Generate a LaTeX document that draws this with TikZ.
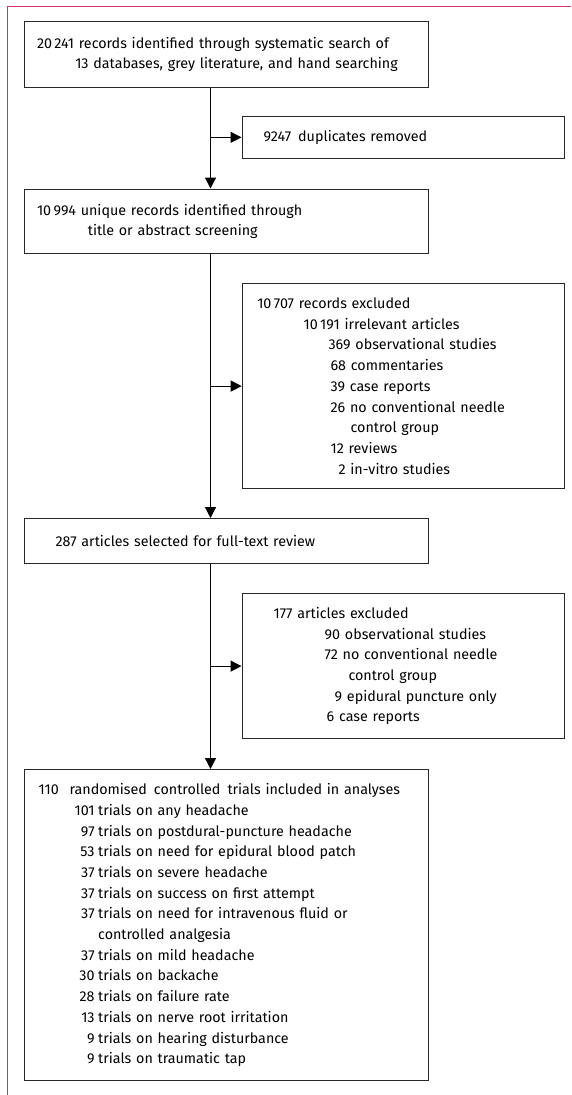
\documentclass[tikz,border=0pt]{standalone}
\usepackage{fontspec}
\setmainfont{Fira Sans}
\usetikzlibrary{arrows.meta}
\definecolor{framec}{RGB}{214,48,104}
\definecolor{boxc}{RGB}{40,40,40}
\newcommand{\fs}{\fontsize{14.3}{20.7}\selectfont}
\newcommand{\ind}[1]{\hspace*{#1pt}}
\newcommand{\tl}[2]{\makebox[56pt][r]{#1}\hspace{3.6pt}#2}
\begin{document}
\begin{tikzpicture}[x=1pt,y=-1pt,
  box/.style={draw=boxc, line width=1.2pt, anchor=north west, align=left,
    inner ysep=0pt, font=\fs},
  arr/.style={draw=black, line width=1.2pt, -{Triangle[length=11pt,width=11pt]}}]
\useasboundingbox (0,0) rectangle (571,1095);
\draw[framec, line width=1.7pt] (7.5,1095) -- (7.5,6.5) -- (571,6.5);

\node[box, minimum width=404pt, minimum height=65.5pt, inner xsep=12.4pt, text width=379.2pt]
  (A) at (24,21) {20\,241 records identified through systematic search of\\
  \ind{38.3}13 databases, grey literature, and hand searching};

\node[box, minimum width=322.5pt, minimum height=42.5pt, inner xsep=21.6pt, text width=279.3pt]
  (dup) at (241.5,115.5) {9247\hspace{7pt}duplicates removed};

\node[box, minimum width=404pt, minimum height=64.5pt, inner xsep=12.4pt, text width=379.2pt]
  (B) at (24,188.5) {10\,994 unique records identified through\\
  \ind{51}title or abstract screening};

\node[box, minimum width=322.3pt, minimum height=205pt, inner xsep=15pt, text width=292.3pt]
  (E1) at (241.7,283) {10\,707 records excluded\\
  \ind{46.3}10\,191 irrelevant articles\\
  \ind{71.3}369 observational studies\\
  \ind{73.3}68 commentaries\\
  \ind{73.3}39 case reports\\
  \ind{73.3}26 no conventional needle\\
  \ind{93.3}control group\\
  \ind{73.3}12 reviews\\
  \ind{81.3}2 in-vitro studies};

\node[box, minimum width=404pt, minimum height=45pt, inner xsep=31pt, text width=342pt]
  (C) at (24,518) {287 articles selected for full-text review};

\node[box, minimum width=322.5pt, minimum height=145pt, inner xsep=31.6pt, text width=259.3pt]
  (E2) at (241.5,593) {177 articles excluded\\
  \ind{51}90 observational studies\\
  \ind{51}72 no conventional needle\\
  \ind{74.8}control group\\
  \ind{61}9 epidural puncture only\\
  \ind{53}6 case reports};

\node[box, minimum width=404pt, minimum height=311pt, inner xsep=14pt, text width=376pt]
  (D) at (24,769) {\makebox[31pt][l]{110}randomised\hspace{7pt}controlled\hspace{7pt}trials included in analyses\\
  \tl{101}{trials on any headache}\\
  \tl{97}{trials on postdural-puncture headache}\\
  \tl{53}{trials on need for epidural blood patch}\\
  \tl{37}{trials on severe headache}\\
  \tl{37}{trials on success on first attempt}\\
  \tl{37}{trials on need for intravenous fluid or}\\
  \ind{59.6}controlled analgesia\\
  \tl{37}{trials on mild headache}\\
  \tl{30}{trials on backache}\\
  \tl{28}{trials on failure rate}\\
  \tl{13}{trials on nerve root irritation}\\
  \tl{9}{trials on hearing disturbance}\\
  \tl{9}{trials on traumatic tap}};

\coordinate (trunk) at (210.5,0);
\draw[arr] (A.south -| trunk) -- (B.north -| trunk);
\draw[arr] (dup.west -| trunk) -- (dup.west);
\draw[arr] (B.south -| trunk) -- (C.north -| trunk);
\draw[arr] (E1.west -| trunk) -- (E1.west);
\draw[arr] (C.south -| trunk) -- (D.north -| trunk);
\draw[arr] (E2.west -| trunk) -- (E2.west);
\end{tikzpicture}
\end{document}
